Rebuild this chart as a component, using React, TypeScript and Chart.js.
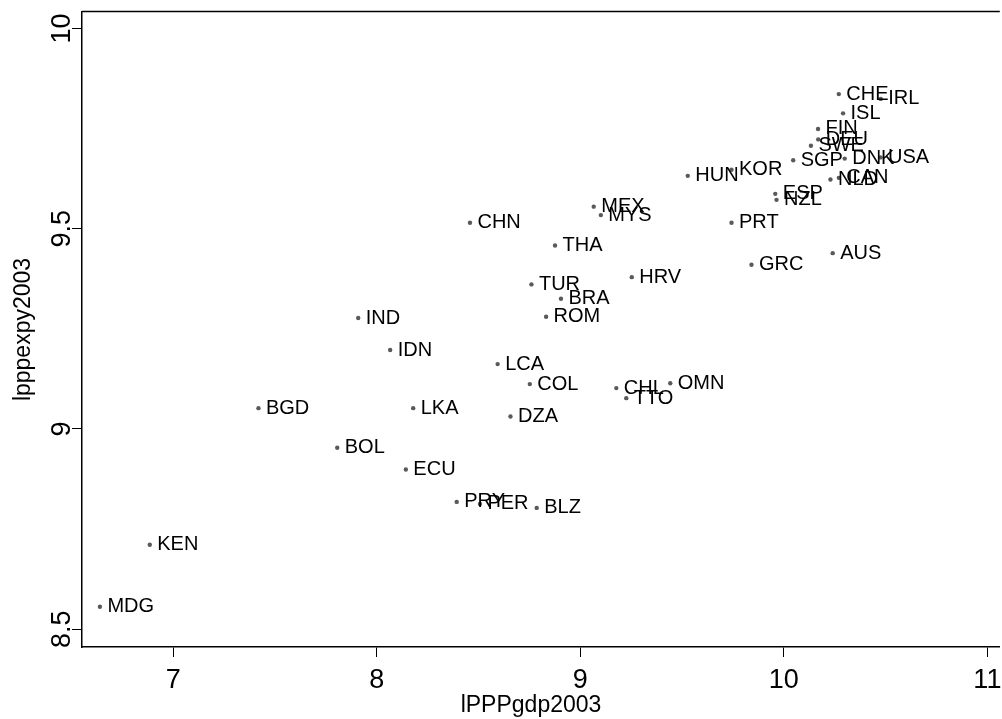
import React, { useEffect, useRef } from 'react';
import { Chart, registerables } from 'chart.js';

Chart.register(...registerables);

const countries = [
  'MDG', 'KEN', 'BGD', 'BOL', 'IND', 'IDN', 'ECU', 'LKA', 'CHN', 'PRY',
  'PER', 'BLZ', 'LCA', 'COL', 'DZA', 'CHL', 'TTO', 'OMN', 'MEX', 'MYS',
  'THA', 'TUR', 'BRA', 'ROM', 'HRV', 'HUN', 'KOR', 'PRT', 'GRC', 'AUS',
  'CHE', 'IRL', 'ISL', 'FIN', 'DEU', 'SWE', 'SGP', 'DNK', 'USA', 'NLD',
  'CAN', 'ESP', 'NZL',
];
const lpppgdp = [
  6.640, 6.885, 7.419, 7.806, 7.909, 8.066, 8.143, 8.179, 8.458, 8.393,
  8.507, 8.786, 8.594, 8.752, 8.657, 9.177, 9.226, 9.442, 9.066, 9.101,
  8.876, 8.760, 8.905, 8.832, 9.253, 9.528, 9.743, 9.743, 9.841, 10.240,
  10.270, 10.476, 10.291, 10.168, 10.169, 10.133, 10.046, 10.299, 10.475, 10.229,
  10.270, 9.958, 9.964,
];
const lpppexpy = [
  8.556, 8.711, 9.052, 8.953, 9.277, 9.197, 8.899, 9.052, 9.515, 8.818,
  8.813, 8.803, 9.162, 9.112, 9.031, 9.102, 9.077, 9.114, 9.555, 9.534,
  9.458, 9.361, 9.325, 9.280, 9.379, 9.632, 9.647, 9.515, 9.410, 9.439,
  9.836, 9.824, 9.788, 9.749, 9.723, 9.707, 9.671, 9.675, 9.678, 9.623,
  9.627, 9.587, 9.572,
];
const xTicks = [7, 8, 9, 10, 11];
const yTicks = [8.5, 9, 9.5, 10];
const xTitle = 'lPPPgdp2003';
const yTitle = 'lpppexpy2003';

const FONT = '"Liberation Sans", Arial, Helvetica, sans-serif';

const overlay = {
  id: 'overlay',
  afterDatasetsDraw(chart: any) {
    const ctx = chart.ctx;
    const xs = chart.scales.x;
    const ys = chart.scales.y;
    ctx.save();
    ctx.font = `20px ${FONT}`;
    ctx.fillStyle = '#000';
    ctx.textBaseline = 'middle';
    ctx.textAlign = 'left';
    countries.forEach((c, i) => {
      const px = xs.getPixelForValue(lpppgdp[i]);
      const py = ys.getPixelForValue(lpppexpy[i]);
      ctx.fillText(c, px + 7.5, py);
    });
    ctx.restore();
  },
  afterDraw(chart: any) {
    const ctx = chart.ctx;
    const xs = chart.scales.x;
    const ys = chart.scales.y;
    const area = chart.chartArea;
    ctx.save();
    // top frame line
    ctx.strokeStyle = '#000';
    ctx.lineWidth = 1.5;
    ctx.beginPath();
    ctx.moveTo(area.left, area.top - 0.5);
    ctx.lineTo(area.right, area.top - 0.5);
    ctx.stroke();
    ctx.fillStyle = '#000';
    // x tick labels
    ctx.font = `27px ${FONT}`;
    ctx.textAlign = 'center';
    ctx.textBaseline = 'alphabetic';
    xTicks.forEach((v) => {
      ctx.fillText(String(v), xs.getPixelForValue(v), 688);
    });
    // y tick labels (rotated)
    yTicks.forEach((v) => {
      const py = ys.getPixelForValue(v);
      ctx.save();
      ctx.translate(70, py);
      ctx.rotate(-Math.PI / 2);
      ctx.fillText(String(v), 0, 0);
      ctx.restore();
    });
    // titles
    ctx.font = `23px ${FONT}`;
    ctx.fillText(xTitle, 531, 712);
    ctx.save();
    ctx.translate(30, (area.top + area.bottom) / 2);
    ctx.rotate(-Math.PI / 2);
    ctx.fillText(yTitle, 0, 0);
    ctx.restore();
    ctx.restore();
  },
};

export default function App() {
  const ref = useRef<HTMLCanvasElement | null>(null);
  useEffect(() => {
    document.body.style.margin = '0';
    if (!ref.current) return;
    const chart = new Chart(ref.current, {
      type: 'scatter',
      data: {
        datasets: [
          {
            label: 'countries',
            data: lpppgdp.map((x, i) => ({ x, y: lpppexpy[i] })),
            backgroundColor: '#5a5a5a',
            borderColor: '#5a5a5a',
            borderWidth: 0,
            pointRadius: 2.2,
            pointHoverRadius: 2.2,
          },
        ],
      },
      options: {
        animation: false,
        responsive: true,
        maintainAspectRatio: false,
        layout: { padding: { top: 12, right: 0, bottom: 0, left: 0 } },
        plugins: {
          legend: { display: false },
          tooltip: { enabled: false },
        },
        events: [],
        scales: {
          x: {
            type: 'linear',
            min: 6.552,
            max: 11.061,
            afterBuildTicks: (s: any) => {
              s.ticks = xTicks.map((v) => ({ value: v }));
            },
            afterFit: (s: any) => {
              s.height = 72;
            },
            ticks: { display: false },
            grid: {
              display: true,
              drawOnChartArea: false,
              drawTicks: true,
              tickLength: 10,
              color: '#000',
              lineWidth: 1,
            },
            border: { display: true, color: '#000', width: 1.5 },
          },
          y: {
            type: 'linear',
            min: 8.4557,
            max: 10.041,
            afterBuildTicks: (s: any) => {
              s.ticks = yTicks.map((v) => ({ value: v }));
            },
            afterFit: (s: any) => {
              s.width = 82;
            },
            ticks: { display: false },
            grid: {
              display: true,
              drawOnChartArea: false,
              drawTicks: true,
              tickLength: 10,
              color: '#000',
              lineWidth: 1,
            },
            border: { display: true, color: '#000', width: 1.5 },
          },
        },
      },
      plugins: [overlay],
    });
    return () => chart.destroy();
  }, []);
  return (
    <div style={{ width: 1002, height: 719, position: 'relative' }}>
      <canvas ref={ref} />
    </div>
  );
}
